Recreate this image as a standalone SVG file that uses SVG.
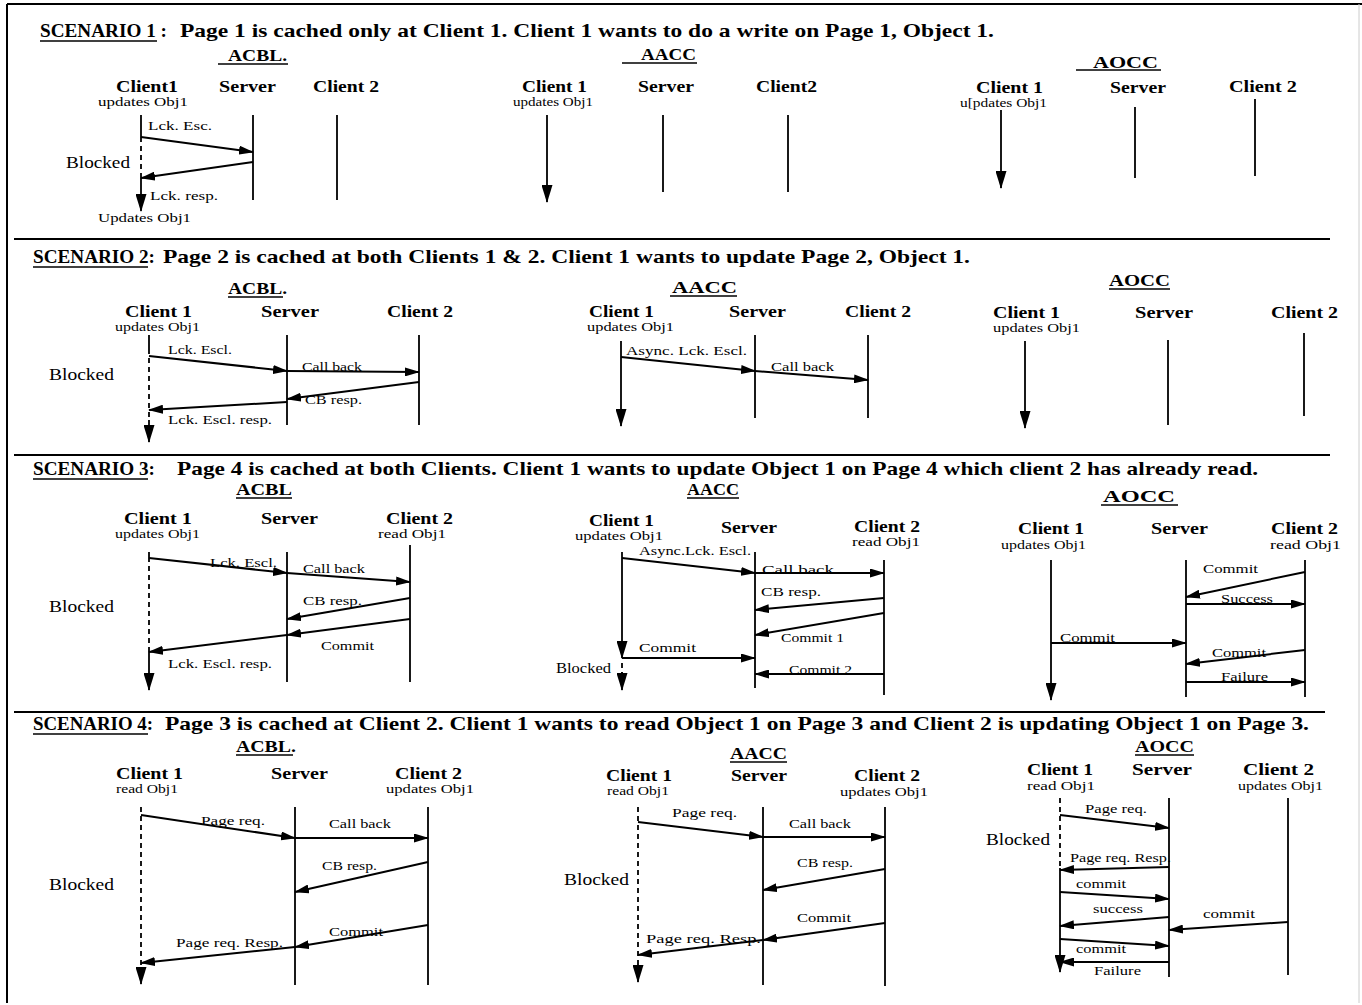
<svg xmlns="http://www.w3.org/2000/svg" width="1362" height="1005" viewBox="0 0 1362 1005">
<style>
text{font-family:"Liberation Serif","Times New Roman",serif;fill:#000}
.title{font-size:19px;font-weight:bold}
.proto{font-size:16px;font-weight:bold}
.hdr{font-size:17.5px;font-weight:bold}
.sub{font-size:11.5px}
.lbl{font-size:13px}
.blk{font-size:17px}
.blks{font-size:15px}
.ll{stroke:#000;stroke-width:1.8;fill:none}
.dash{stroke-dasharray:5 4}
.va{marker-end:url(#ahv)}
.msg{stroke:#000;stroke-width:2;fill:none;marker-end:url(#ah)}
.ul{stroke:#000;stroke-width:1.5}
.sep{stroke:#000;stroke-width:2}
</style>
<defs>
<marker id="ah" viewBox="0 0 15 9" markerWidth="15" markerHeight="9" refX="14" refY="4.5" orient="auto" markerUnits="userSpaceOnUse"><path d="M0,0 L15,4.5 L0,9 z" fill="#000"/></marker>
<marker id="ahv" viewBox="0 0 18 11" markerWidth="18" markerHeight="11" refX="17" refY="5.5" orient="auto" markerUnits="userSpaceOnUse"><path d="M0,0 L18,5.5 L0,11 z" fill="#000"/></marker>
</defs>
<rect width="1362" height="1005" fill="#fff"/>

<g id="frame">
<line class="sep" x1="7" y1="4" x2="1362" y2="4"/>
<line class="sep" x1="7" y1="4" x2="7" y2="1003"/>
<line x1="1359" y1="4" x2="1359" y2="1003" stroke="#ccc" stroke-width="1"/>
<line class="sep" x1="14" y1="239" x2="1330" y2="239"/>
<line class="sep" x1="14" y1="455" x2="1330" y2="455"/>
<line class="sep" x1="14" y1="712" x2="1325" y2="712"/>
</g>

<!-- ===== SCENARIO 1 ===== -->
<g id="s1-title">
<text class="title" x="40" y="37" textLength="127" lengthAdjust="spacingAndGlyphs">SCENARIO 1 :</text>
<line class="ul" x1="40" y1="41" x2="157" y2="41"/>
<text class="title" x="180" y="37" textLength="814" lengthAdjust="spacingAndGlyphs">Page 1 is cached only at Client 1. Client 1 wants to do a write on Page 1, Object 1.</text>
</g>
<g id="s1-acbl">
<text class="proto" x="228" y="61" textLength="59" lengthAdjust="spacingAndGlyphs">ACBL.</text>
<line class="ul" x1="218" y1="64" x2="288" y2="64"/>
<g id="s1-acbl-c1">
<text class="hdr" x="116" y="92" textLength="62" lengthAdjust="spacingAndGlyphs">Client1</text>
<text class="sub" x="98" y="106" textLength="90" lengthAdjust="spacingAndGlyphs">updates Obj1</text>
<line class="ll" x1="141" y1="115" x2="141" y2="137"/>
<line class="ll dash" x1="141" y1="137" x2="141" y2="178"/>
<line class="ll va" x1="141" y1="178" x2="141" y2="211"/>
<text class="blk" x="66" y="168" textLength="64" lengthAdjust="spacingAndGlyphs">Blocked</text>
<text class="sub" x="98" y="222" textLength="93" lengthAdjust="spacingAndGlyphs">Updates Obj1</text>
</g>
<g id="s1-acbl-srv">
<text class="hdr" x="219" y="92" textLength="57" lengthAdjust="spacingAndGlyphs">Server</text>
<line class="ll" x1="253" y1="115" x2="253" y2="200"/>
</g>
<g id="s1-acbl-c2">
<text class="hdr" x="313" y="92" textLength="66" lengthAdjust="spacingAndGlyphs">Client 2</text>
<line class="ll" x1="337" y1="115" x2="337" y2="200"/>
</g>
</g>
<g id="s1-aacc">
<text class="proto" x="641" y="60" textLength="55" lengthAdjust="spacingAndGlyphs">AACC</text>
<line class="ul" x1="622" y1="63" x2="697" y2="63"/>
<g id="s1-aacc-c1">
<text class="hdr" x="522" y="92" textLength="65" lengthAdjust="spacingAndGlyphs">Client 1</text>
<text class="sub" x="513" y="106" textLength="80" lengthAdjust="spacingAndGlyphs">updates Obj1</text>
<line class="ll va" x1="547" y1="115" x2="547" y2="202"/>
</g>
<g id="s1-aacc-srv">
<text class="hdr" x="638" y="92" textLength="56" lengthAdjust="spacingAndGlyphs">Server</text>
<line class="ll" x1="663" y1="115" x2="663" y2="192"/>
</g>
<g id="s1-aacc-c2">
<text class="hdr" x="756" y="92" textLength="61" lengthAdjust="spacingAndGlyphs">Client2</text>
<line class="ll" x1="788" y1="115" x2="788" y2="192"/>
</g>
</g>
<g id="s1-aocc">
<text class="proto" x="1093" y="68" textLength="65" lengthAdjust="spacingAndGlyphs">AOCC</text>
<line class="ul" x1="1076" y1="70" x2="1161" y2="70"/>
<g id="s1-aocc-c1">
<text class="hdr" x="976" y="93" textLength="67" lengthAdjust="spacingAndGlyphs">Client 1</text>
<text class="sub" x="960" y="107" textLength="87" lengthAdjust="spacingAndGlyphs">u[pdates Obj1</text>
<line class="ll va" x1="1001" y1="110" x2="1001" y2="188"/>
</g>
<g id="s1-aocc-srv">
<text class="hdr" x="1110" y="93" textLength="56" lengthAdjust="spacingAndGlyphs">Server</text>
<line class="ll" x1="1135" y1="107" x2="1135" y2="178"/>
</g>
<g id="s1-aocc-c2">
<text class="hdr" x="1229" y="92" textLength="68" lengthAdjust="spacingAndGlyphs">Client 2</text>
<line class="ll" x1="1255" y1="99" x2="1255" y2="176"/>
</g>
</g>

<!-- ===== SCENARIO 2 ===== -->
<g id="s2-title">
<text class="title" x="33" y="263" textLength="122" lengthAdjust="spacingAndGlyphs">SCENARIO 2:</text>
<line class="ul" x1="33" y1="267" x2="148" y2="267"/>
<text class="title" x="163" y="263" textLength="807" lengthAdjust="spacingAndGlyphs">Page 2 is cached at both Clients 1 &amp; 2. Client 1 wants to update Page 2, Object 1.</text>
</g>
<g id="s2-acbl">
<text class="proto" x="228" y="294" textLength="59" lengthAdjust="spacingAndGlyphs">ACBL.</text>
<line class="ul" x1="228" y1="297" x2="283" y2="297"/>
<g id="s2-acbl-c1">
<text class="hdr" x="125" y="317" textLength="67" lengthAdjust="spacingAndGlyphs">Client 1</text>
<text class="sub" x="115" y="331" textLength="85" lengthAdjust="spacingAndGlyphs">updates Obj1</text>
<line class="ll" x1="149" y1="335" x2="149" y2="349"/>
<line class="ll dash" x1="149" y1="349" x2="149" y2="420"/>
<line class="ll va" x1="149" y1="420" x2="149" y2="442"/>
<text class="blk" x="49" y="380" textLength="65" lengthAdjust="spacingAndGlyphs">Blocked</text>
</g>
<g id="s2-acbl-srv">
<text class="hdr" x="261" y="317" textLength="58" lengthAdjust="spacingAndGlyphs">Server</text>
<line class="ll" x1="287" y1="335" x2="287" y2="425"/>
</g>
<g id="s2-acbl-c2">
<text class="hdr" x="387" y="317" textLength="66" lengthAdjust="spacingAndGlyphs">Client 2</text>
<line class="ll" x1="419" y1="335" x2="419" y2="425"/>
</g>
</g>
<g id="s2-aacc">
<text class="proto" x="672" y="293" textLength="65" lengthAdjust="spacingAndGlyphs">AACC</text>
<line class="ul" x1="670" y1="296" x2="737" y2="296"/>
<g id="s2-aacc-c1">
<text class="hdr" x="589" y="317" textLength="65" lengthAdjust="spacingAndGlyphs">Client 1</text>
<text class="sub" x="587" y="331" textLength="87" lengthAdjust="spacingAndGlyphs">updates Obj1</text>
<line class="ll va" x1="621" y1="341" x2="621" y2="426"/>
</g>
<g id="s2-aacc-srv">
<text class="hdr" x="729" y="317" textLength="57" lengthAdjust="spacingAndGlyphs">Server</text>
<line class="ll" x1="755" y1="335" x2="755" y2="418"/>
</g>
<g id="s2-aacc-c2">
<text class="hdr" x="845" y="317" textLength="66" lengthAdjust="spacingAndGlyphs">Client 2</text>
<line class="ll" x1="868" y1="335" x2="868" y2="418"/>
</g>
</g>
<g id="s2-aocc">
<text class="proto" x="1109" y="286" textLength="61" lengthAdjust="spacingAndGlyphs">AOCC</text>
<line class="ul" x1="1109" y1="289" x2="1170" y2="289"/>
<g id="s2-aocc-c1">
<text class="hdr" x="993" y="318" textLength="67" lengthAdjust="spacingAndGlyphs">Client 1</text>
<text class="sub" x="993" y="332" textLength="87" lengthAdjust="spacingAndGlyphs">updates Obj1</text>
<line class="ll va" x1="1025" y1="341" x2="1025" y2="428"/>
</g>
<g id="s2-aocc-srv">
<text class="hdr" x="1135" y="318" textLength="58" lengthAdjust="spacingAndGlyphs">Server</text>
<line class="ll" x1="1168" y1="340" x2="1168" y2="425"/>
</g>
<g id="s2-aocc-c2">
<text class="hdr" x="1271" y="318" textLength="67" lengthAdjust="spacingAndGlyphs">Client 2</text>
<line class="ll" x1="1304" y1="333" x2="1304" y2="416"/>
</g>
</g>

<!-- ===== SCENARIO 3 ===== -->
<g id="s3-title">
<text class="title" x="33" y="475" textLength="122" lengthAdjust="spacingAndGlyphs">SCENARIO 3:</text>
<line class="ul" x1="33" y1="479" x2="148" y2="479"/>
<text class="title" x="177" y="475" textLength="1081" lengthAdjust="spacingAndGlyphs">Page 4 is cached at both Clients. Client 1 wants to update Object 1 on Page 4 which client 2 has already read.</text>
</g>
<g id="s3-acbl">
<text class="proto" x="236" y="495" textLength="56" lengthAdjust="spacingAndGlyphs">ACBL</text>
<line class="ul" x1="236" y1="498" x2="292" y2="498"/>
<g id="s3-acbl-c1">
<text class="hdr" x="124" y="524" textLength="68" lengthAdjust="spacingAndGlyphs">Client 1</text>
<text class="sub" x="115" y="538" textLength="85" lengthAdjust="spacingAndGlyphs">updates Obj1</text>
<line class="ll" x1="149" y1="552" x2="149" y2="557"/>
<line class="ll dash" x1="149" y1="557" x2="149" y2="651"/>
<line class="ll va" x1="149" y1="651" x2="149" y2="690"/>
<text class="blk" x="49" y="612" textLength="65" lengthAdjust="spacingAndGlyphs">Blocked</text>
</g>
<g id="s3-acbl-srv">
<text class="hdr" x="261" y="524" textLength="57" lengthAdjust="spacingAndGlyphs">Server</text>
<line class="ll" x1="287" y1="552" x2="287" y2="682"/>
</g>
<g id="s3-acbl-c2">
<text class="hdr" x="386" y="524" textLength="67" lengthAdjust="spacingAndGlyphs">Client 2</text>
<text class="sub" x="378" y="538" textLength="68" lengthAdjust="spacingAndGlyphs">read Obj1</text>
<line class="ll" x1="410" y1="545" x2="410" y2="682"/>
</g>
</g>
<g id="s3-aacc">
<text class="proto" x="687" y="495" textLength="52" lengthAdjust="spacingAndGlyphs">AACC</text>
<line class="ul" x1="687" y1="498" x2="739" y2="498"/>
<g id="s3-aacc-c1">
<text class="hdr" x="589" y="526" textLength="65" lengthAdjust="spacingAndGlyphs">Client 1</text>
<text class="sub" x="575" y="540" textLength="88" lengthAdjust="spacingAndGlyphs">updates Obj1</text>
<line class="ll va" x1="622" y1="552" x2="622" y2="658"/>
<line class="ll dash" x1="622" y1="663" x2="622" y2="673"/>
<line class="ll va" x1="622" y1="672" x2="622" y2="690"/>
<text class="blks" x="556" y="673" textLength="55" lengthAdjust="spacingAndGlyphs">Blocked</text>
</g>
<g id="s3-aacc-srv">
<text class="hdr" x="721" y="533" textLength="56" lengthAdjust="spacingAndGlyphs">Server</text>
<line class="ll" x1="755" y1="552" x2="755" y2="688"/>
</g>
<g id="s3-aacc-c2">
<text class="hdr" x="854" y="532" textLength="66" lengthAdjust="spacingAndGlyphs">Client 2</text>
<text class="sub" x="852" y="546" textLength="68" lengthAdjust="spacingAndGlyphs">read Obj1</text>
<line class="ll" x1="884" y1="560" x2="884" y2="695"/>
</g>
</g>
<g id="s3-aocc">
<text class="proto" x="1103" y="502" textLength="72" lengthAdjust="spacingAndGlyphs">AOCC</text>
<line class="ul" x1="1101" y1="505" x2="1178" y2="505"/>
<g id="s3-aocc-c1">
<text class="hdr" x="1018" y="534" textLength="66" lengthAdjust="spacingAndGlyphs">Client 1</text>
<text class="sub" x="1001" y="549" textLength="85" lengthAdjust="spacingAndGlyphs">updates Obj1</text>
<line class="ll va" x1="1051" y1="560" x2="1051" y2="700"/>
</g>
<g id="s3-aocc-srv">
<text class="hdr" x="1151" y="534" textLength="57" lengthAdjust="spacingAndGlyphs">Server</text>
<line class="ll" x1="1186" y1="560" x2="1186" y2="697"/>
</g>
<g id="s3-aocc-c2">
<text class="hdr" x="1271" y="534" textLength="67" lengthAdjust="spacingAndGlyphs">Client 2</text>
<text class="sub" x="1270" y="549" textLength="71" lengthAdjust="spacingAndGlyphs">read Obj1</text>
<line class="ll" x1="1305" y1="560" x2="1305" y2="697"/>
</g>
</g>

<!-- ===== SCENARIO 4 ===== -->
<g id="s4-title">
<text class="title" x="33" y="730" textLength="120" lengthAdjust="spacingAndGlyphs">SCENARIO 4:</text>
<line class="ul" x1="33" y1="734" x2="148" y2="734"/>
<text class="title" x="165" y="730" textLength="1144" lengthAdjust="spacingAndGlyphs">Page 3 is cached at Client 2. Client 1 wants to read Object 1 on Page 3 and Client 2 is updating Object 1 on Page 3.</text>
</g>
<g id="s4-acbl">
<text class="proto" x="236" y="752" textLength="60" lengthAdjust="spacingAndGlyphs">ACBL.</text>
<line class="ul" x1="236" y1="755" x2="293" y2="755"/>
<g id="s4-acbl-c1">
<text class="hdr" x="116" y="779" textLength="67" lengthAdjust="spacingAndGlyphs">Client 1</text>
<text class="sub" x="116" y="793" textLength="62" lengthAdjust="spacingAndGlyphs">read Obj1</text>
<line class="ll dash" x1="141" y1="807" x2="141" y2="968"/>
<line class="ll va" x1="141" y1="967" x2="141" y2="984"/>
<text class="blk" x="49" y="890" textLength="65" lengthAdjust="spacingAndGlyphs">Blocked</text>
</g>
<g id="s4-acbl-srv">
<text class="hdr" x="271" y="779" textLength="57" lengthAdjust="spacingAndGlyphs">Server</text>
<line class="ll" x1="295" y1="807" x2="295" y2="985"/>
</g>
<g id="s4-acbl-c2">
<text class="hdr" x="395" y="779" textLength="67" lengthAdjust="spacingAndGlyphs">Client 2</text>
<text class="sub" x="386" y="793" textLength="88" lengthAdjust="spacingAndGlyphs">updates Obj1</text>
<line class="ll" x1="428" y1="807" x2="428" y2="985"/>
</g>
</g>
<g id="s4-aacc">
<text class="proto" x="730" y="759" textLength="57" lengthAdjust="spacingAndGlyphs">AACC</text>
<line class="ul" x1="730" y1="762" x2="787" y2="762"/>
<g id="s4-aacc-c1">
<text class="hdr" x="606" y="781" textLength="66" lengthAdjust="spacingAndGlyphs">Client 1</text>
<text class="sub" x="607" y="795" textLength="62" lengthAdjust="spacingAndGlyphs">read Obj1</text>
<line class="ll dash" x1="638" y1="807" x2="638" y2="968"/>
<line class="ll va" x1="638" y1="967" x2="638" y2="982"/>
<text class="blk" x="564" y="885" textLength="65" lengthAdjust="spacingAndGlyphs">Blocked</text>
</g>
<g id="s4-aacc-srv">
<text class="hdr" x="731" y="781" textLength="56" lengthAdjust="spacingAndGlyphs">Server</text>
<line class="ll" x1="763" y1="807" x2="763" y2="985"/>
</g>
<g id="s4-aacc-c2">
<text class="hdr" x="854" y="781" textLength="66" lengthAdjust="spacingAndGlyphs">Client 2</text>
<text class="sub" x="840" y="796" textLength="88" lengthAdjust="spacingAndGlyphs">updates Obj1</text>
<line class="ll" x1="885" y1="807" x2="885" y2="986"/>
</g>
</g>
<g id="s4-aocc">
<text class="proto" x="1135" y="752" textLength="59" lengthAdjust="spacingAndGlyphs">AOCC</text>
<line class="ul" x1="1135" y1="755" x2="1194" y2="755"/>
<g id="s4-aocc-c1">
<text class="hdr" x="1027" y="775" textLength="66" lengthAdjust="spacingAndGlyphs">Client 1</text>
<text class="sub" x="1027" y="790" textLength="68" lengthAdjust="spacingAndGlyphs">read Obj1</text>
<line class="ll dash" x1="1060" y1="798" x2="1060" y2="868"/>
<line class="ll va" x1="1060" y1="868" x2="1060" y2="972"/>
<text class="blk" x="986" y="845" textLength="64" lengthAdjust="spacingAndGlyphs">Blocked</text>
</g>
<g id="s4-aocc-srv">
<text class="hdr" x="1132" y="775" textLength="60" lengthAdjust="spacingAndGlyphs">Server</text>
<line class="ll" x1="1169" y1="798" x2="1169" y2="977"/>
</g>
<g id="s4-aocc-c2">
<text class="hdr" x="1243" y="775" textLength="71" lengthAdjust="spacingAndGlyphs">Client 2</text>
<text class="sub" x="1238" y="790" textLength="85" lengthAdjust="spacingAndGlyphs">updates Obj1</text>
<line class="ll" x1="1288" y1="798" x2="1288" y2="975"/>
</g>
</g>

<!-- ===== CONNECTORS ===== -->
<g id="connectors">
<!-- S1 ACBL -->
<line class="msg" x1="141" y1="137" x2="253" y2="152"/>
<text class="lbl" x="148" y="130" textLength="64" lengthAdjust="spacingAndGlyphs">Lck. Esc.</text>
<line class="msg" x1="253" y1="162" x2="141" y2="178"/>
<text class="lbl" x="150" y="200" textLength="68" lengthAdjust="spacingAndGlyphs">Lck. resp.</text>

<!-- S2 ACBL -->
<line class="msg" x1="149" y1="356" x2="287" y2="371"/>
<text class="lbl" x="168" y="354" textLength="64" lengthAdjust="spacingAndGlyphs">Lck. Escl.</text>
<line class="msg" x1="287" y1="371" x2="419" y2="372"/>
<text class="lbl" x="302" y="371" textLength="60" lengthAdjust="spacingAndGlyphs">Call back</text>
<line class="msg" x1="419" y1="382" x2="287" y2="399"/>
<text class="lbl" x="305" y="404" textLength="57" lengthAdjust="spacingAndGlyphs">CB resp.</text>
<line class="msg" x1="287" y1="402" x2="149" y2="410"/>
<text class="lbl" x="168" y="424" textLength="104" lengthAdjust="spacingAndGlyphs">Lck. Escl. resp.</text>
<!-- S2 AACC -->
<line class="msg" x1="621" y1="357" x2="755" y2="371"/>
<text class="lbl" x="626" y="355" textLength="121" lengthAdjust="spacingAndGlyphs">Async. Lck. Escl.</text>
<line class="msg" x1="755" y1="371" x2="868" y2="380"/>
<text class="lbl" x="771" y="371" textLength="63" lengthAdjust="spacingAndGlyphs">Call back</text>

<!-- S3 ACBL -->
<line class="msg" x1="149" y1="558" x2="287" y2="573"/>
<text class="lbl" x="210" y="567" textLength="67" lengthAdjust="spacingAndGlyphs">Lck. Escl.</text>
<line class="msg" x1="287" y1="573" x2="410" y2="582"/>
<text class="lbl" x="303" y="573" textLength="62" lengthAdjust="spacingAndGlyphs">Call back</text>
<line class="msg" x1="410" y1="598" x2="287" y2="619"/>
<text class="lbl" x="303" y="605" textLength="59" lengthAdjust="spacingAndGlyphs">CB resp.</text>
<line class="msg" x1="410" y1="619" x2="287" y2="635"/>
<text class="lbl" x="321" y="650" textLength="53" lengthAdjust="spacingAndGlyphs">Commit</text>
<line class="msg" x1="287" y1="635" x2="149" y2="652"/>
<text class="lbl" x="168" y="668" textLength="104" lengthAdjust="spacingAndGlyphs">Lck. Escl. resp.</text>
<!-- S3 AACC -->
<line class="msg" x1="622" y1="558" x2="755" y2="573"/>
<text class="lbl" x="639" y="555" textLength="112" lengthAdjust="spacingAndGlyphs">Async.Lck. Escl.</text>
<line class="msg" x1="755" y1="573" x2="884" y2="573"/>
<text class="lbl" x="762" y="574" textLength="72" lengthAdjust="spacingAndGlyphs">Call back</text>
<line class="msg" x1="884" y1="598" x2="755" y2="610"/>
<text class="lbl" x="761" y="596" textLength="60" lengthAdjust="spacingAndGlyphs">CB resp.</text>
<line class="msg" x1="884" y1="613" x2="755" y2="635"/>
<text class="lbl" x="781" y="642" textLength="63" lengthAdjust="spacingAndGlyphs">Commit 1</text>
<line class="msg" x1="622" y1="658" x2="755" y2="658"/>
<text class="lbl" x="639" y="652" textLength="57" lengthAdjust="spacingAndGlyphs">Commit</text>
<line class="msg" x1="884" y1="674" x2="755" y2="674"/>
<text class="lbl" x="789" y="674" textLength="63" lengthAdjust="spacingAndGlyphs">Commit 2</text>
<!-- S3 AOCC -->
<line class="msg" x1="1305" y1="572" x2="1186" y2="597"/>
<text class="lbl" x="1203" y="573" textLength="55" lengthAdjust="spacingAndGlyphs">Commit</text>
<line class="msg" x1="1186" y1="604" x2="1305" y2="604"/>
<text class="lbl" x="1221" y="603" textLength="52" lengthAdjust="spacingAndGlyphs">Success</text>
<line class="msg" x1="1051" y1="643" x2="1186" y2="643"/>
<text class="lbl" x="1060" y="642" textLength="55" lengthAdjust="spacingAndGlyphs">Commit</text>
<line class="msg" x1="1305" y1="650" x2="1186" y2="664"/>
<text class="lbl" x="1212" y="657" textLength="54" lengthAdjust="spacingAndGlyphs">Commit</text>
<line class="msg" x1="1186" y1="682" x2="1305" y2="682"/>
<text class="lbl" x="1221" y="681" textLength="47" lengthAdjust="spacingAndGlyphs">Failure</text>

<!-- S4 ACBL -->
<line class="msg" x1="141" y1="815" x2="295" y2="838"/>
<text class="lbl" x="201" y="825" textLength="64" lengthAdjust="spacingAndGlyphs">Page req.</text>
<line class="msg" x1="295" y1="838" x2="428" y2="838"/>
<text class="lbl" x="329" y="828" textLength="62" lengthAdjust="spacingAndGlyphs">Call back</text>
<line class="msg" x1="428" y1="862" x2="295" y2="892"/>
<text class="lbl" x="322" y="870" textLength="55" lengthAdjust="spacingAndGlyphs">CB resp.</text>
<line class="msg" x1="428" y1="925" x2="295" y2="947"/>
<text class="lbl" x="329" y="936" textLength="54" lengthAdjust="spacingAndGlyphs">Commit</text>
<line class="msg" x1="295" y1="947" x2="141" y2="963"/>
<text class="lbl" x="176" y="947" textLength="107" lengthAdjust="spacingAndGlyphs">Page req. Resp.</text>
<!-- S4 AACC -->
<line class="msg" x1="638" y1="822" x2="763" y2="837"/>
<text class="lbl" x="672" y="817" textLength="65" lengthAdjust="spacingAndGlyphs">Page req.</text>
<line class="msg" x1="763" y1="837" x2="885" y2="837"/>
<text class="lbl" x="789" y="828" textLength="62" lengthAdjust="spacingAndGlyphs">Call back</text>
<line class="msg" x1="885" y1="869" x2="763" y2="890"/>
<text class="lbl" x="797" y="867" textLength="56" lengthAdjust="spacingAndGlyphs">CB resp.</text>
<line class="msg" x1="885" y1="923" x2="763" y2="940"/>
<text class="lbl" x="797" y="922" textLength="54" lengthAdjust="spacingAndGlyphs">Commit</text>
<line class="msg" x1="763" y1="940" x2="638" y2="955"/>
<text class="lbl" x="646" y="943" textLength="115" lengthAdjust="spacingAndGlyphs">Page req. Resp.</text>
<!-- S4 AOCC -->
<line class="msg" x1="1060" y1="815" x2="1169" y2="828"/>
<text class="lbl" x="1085" y="813" textLength="62" lengthAdjust="spacingAndGlyphs">Page req.</text>
<line class="msg" x1="1169" y1="867" x2="1060" y2="870"/>
<text class="lbl" x="1070" y="862" textLength="101" lengthAdjust="spacingAndGlyphs">Page req. Resp.</text>
<line class="msg" x1="1060" y1="892" x2="1169" y2="899"/>
<text class="lbl" x="1076" y="888" textLength="50" lengthAdjust="spacingAndGlyphs">commit</text>
<line class="msg" x1="1169" y1="917" x2="1060" y2="926"/>
<text class="lbl" x="1093" y="913" textLength="50" lengthAdjust="spacingAndGlyphs">success</text>
<line class="msg" x1="1288" y1="922" x2="1169" y2="930"/>
<text class="lbl" x="1203" y="918" textLength="52" lengthAdjust="spacingAndGlyphs">commit</text>
<line class="msg" x1="1060" y1="939" x2="1169" y2="946"/>
<text class="lbl" x="1076" y="953" textLength="50" lengthAdjust="spacingAndGlyphs">commit</text>
<line class="msg" x1="1169" y1="962" x2="1060" y2="962"/>
<text class="lbl" x="1094" y="975" textLength="47" lengthAdjust="spacingAndGlyphs">Failure</text>
</g>
</svg>
